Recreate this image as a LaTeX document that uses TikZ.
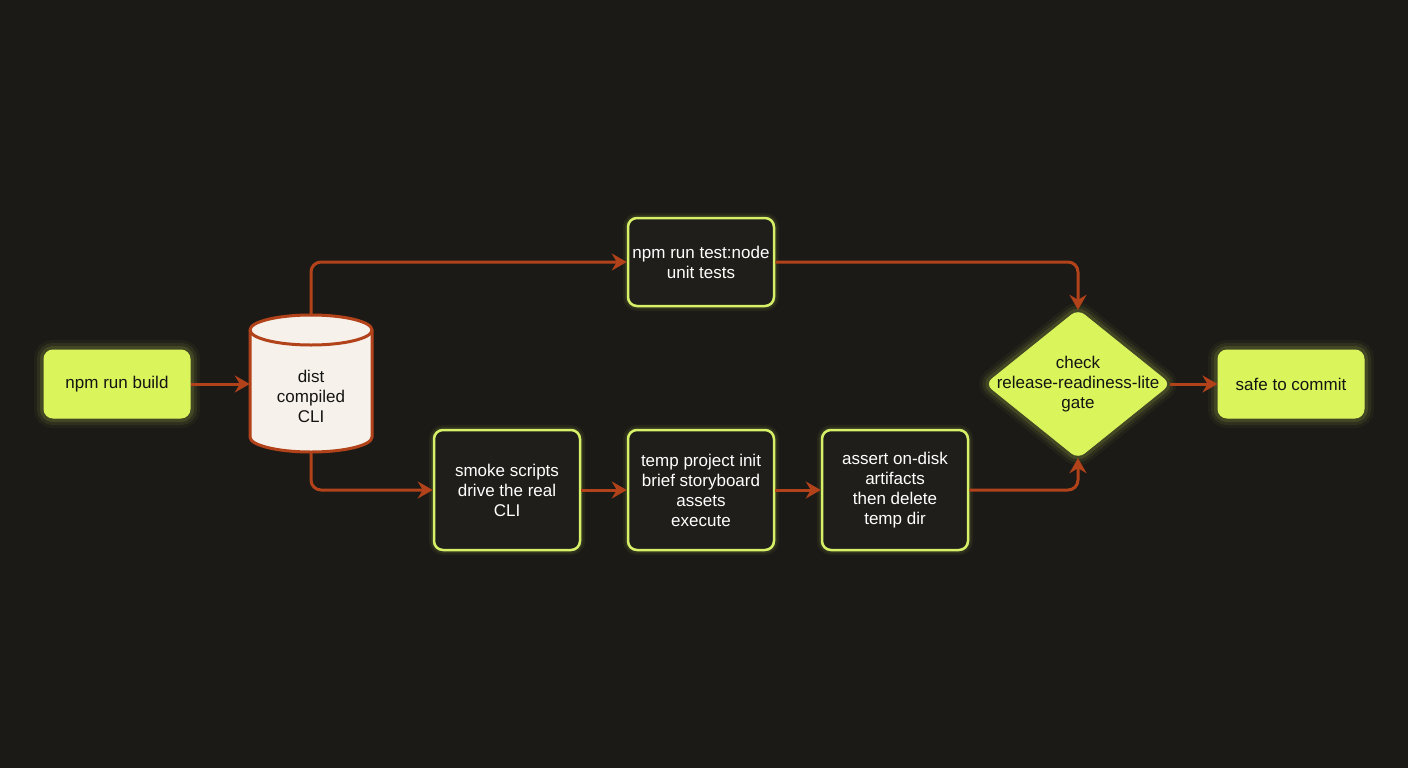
\documentclass[tikz,border=0pt]{standalone}
\usepackage{fontspec}
\setmainfont{Liberation Sans}
\usetikzlibrary{arrows.meta}
\definecolor{bg}{RGB}{28,26,23}
\definecolor{lime}{RGB}{218,244,92}
\definecolor{limeedge}{RGB}{214,240,104}
\definecolor{boxfill}{RGB}{32,30,26}
\definecolor{arr}{RGB}{178,66,26}
\definecolor{cream}{RGB}{246,241,235}
\definecolor{ink}{RGB}{20,20,18}
\tikzset{
  glow/.style={preaction={draw=lime,line width=20pt,opacity=0.04},
               preaction={draw=lime,line width=14pt,opacity=0.07},
               preaction={draw=lime,line width=8pt,opacity=0.12}},
  limebox/.style={glow,draw=lime,fill=lime,line width=1pt,rounded corners=9pt,
     minimum width=146pt,minimum height=68pt,align=center,text=ink,font=\fontsize{17}{20}\selectfont},
  darkbox/.style={preaction={draw=lime,line width=10pt,opacity=0.05},preaction={draw=lime,line width=6pt,opacity=0.08},
     draw=limeedge,fill=boxfill,line width=2.5pt,rounded corners=9pt,
     minimum width=146pt,align=center,text=white,font=\fontsize{17}{20}\selectfont},
  conn/.style={draw=arr,line width=3pt,rounded corners=10pt,-{Stealth[length=15pt,width=17pt,inset=5pt]}},
  lbl/.style={align=center,text=ink,font=\fontsize{17}{20}\selectfont},
}
\begin{document}
\begin{tikzpicture}[x=1pt,y=-1pt]
\fill[bg] (0,0) rectangle (1408,768);
\useasboundingbox (0,0) rectangle (1408,768);

% nodes
\node[limebox] (build) at (117,384) {npm run build};
\node[darkbox,minimum height=88pt] (test) at (701,262) {npm run test:node\\unit tests};
\node[darkbox,minimum height=120pt] (smoke) at (507,490) {smoke scripts\\drive the real\\CLI};
\node[darkbox,minimum height=120pt] (temp) at (701,490) {temp project init\\brief storyboard\\assets\\execute};
\node[darkbox,minimum height=120pt] (assert) at (895,490) {assert on-disk\\artifacts\\then delete\\temp dir};
\node[limebox] (safe) at (1291,384) {safe to commit};

% cylinder
\node[minimum width=122pt,minimum height=137pt,inner sep=0] (dist) at (311,384) {};
\draw[fill=cream,draw=arr,line width=3pt]
  (250,330) -- (250,437) arc[start angle=180,end angle=360,x radius=61,y radius=-15]
  -- (372,330) arc[start angle=0,end angle=180,x radius=61,y radius=-15] -- cycle;
\draw[draw=arr,line width=3pt] (250,330) arc[start angle=180,end angle=360,x radius=61,y radius=-15];
\node[lbl] at (311,396) {dist\\compiled\\CLI};

% diamond
\node[minimum width=184pt,minimum height=148pt,inner sep=0] (gate) at (1078,384) {};
\draw[glow,fill=lime,draw=lime,line width=1pt,rounded corners=8pt]
  (gate.north) -- (gate.east) -- (gate.south) -- (gate.west) -- cycle;
\node[lbl] at (gate.center) {check\\release-readiness-lite\\gate};

% connectors
\draw[conn] (build.east) -- (dist.west);
\draw[conn] (dist.north) |- (test.west);
\draw[conn] (dist.south) |- (smoke.west);
\draw[conn] (smoke.east) -- (temp.west);
\draw[conn] (temp.east) -- (assert.west);
\draw[conn] (test.east) -| (gate.north);
\draw[conn] (assert.east) -| (gate.south);
\draw[conn] (gate.east) -- (safe.west);
\end{tikzpicture}
\end{document}
